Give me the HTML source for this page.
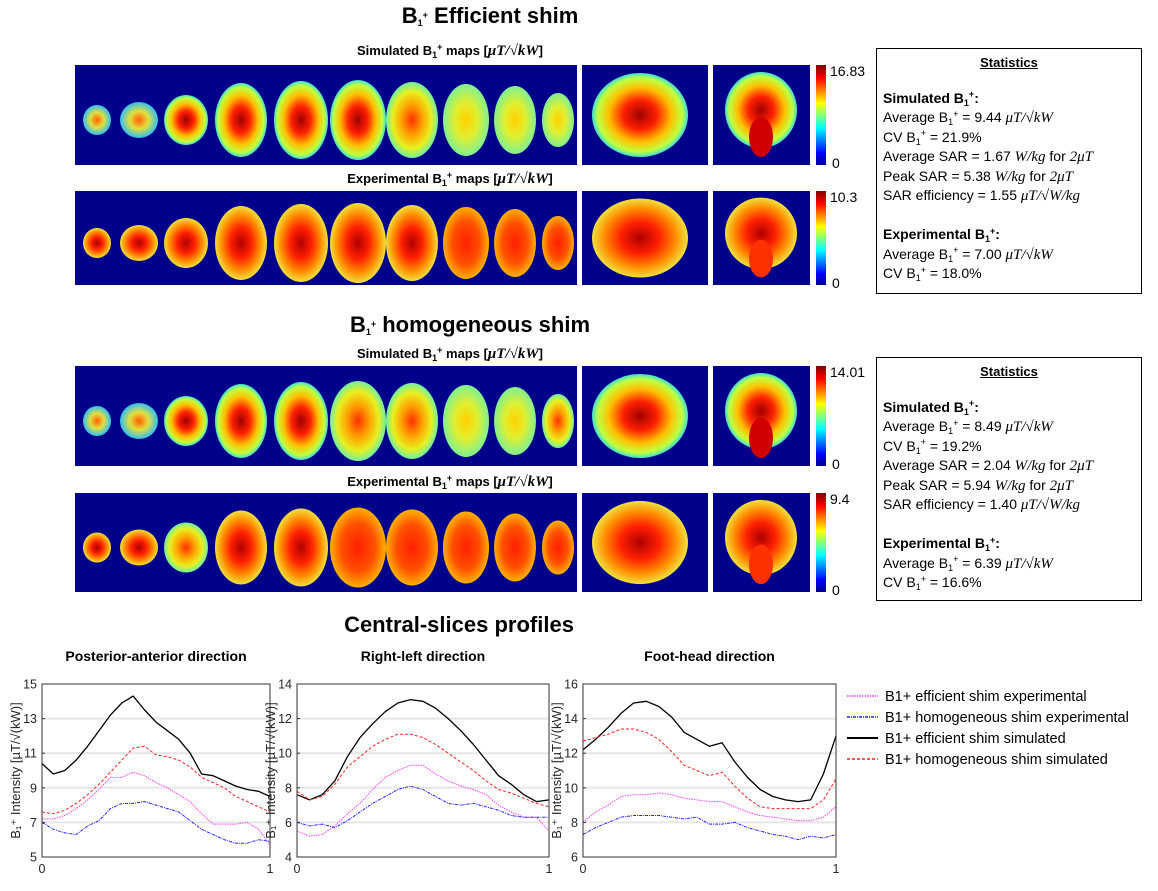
<!DOCTYPE html>
<html><head><meta charset="utf-8">
<style>
body{margin:0;background:#fff;font-family:"Liberation Sans",sans-serif;}
#root{position:relative;width:1158px;height:891px;overflow:hidden;}
.t{position:absolute;white-space:nowrap;color:#000;}
.h1{font-weight:bold;font-size:22px;transform:translateX(-50%);}
.h2{font-weight:bold;font-size:13px;transform:translateX(-50%);}
.stat{position:absolute;border:1px solid #000;background:#fff;font-size:14px;line-height:19.5px;padding:0 6px;box-sizing:border-box;}
.stat u{display:block;text-align:center;font-weight:bold;font-size:13px;margin-top:4px;margin-bottom:16px;}
.m{font-family:"Liberation Serif",serif;font-style:italic;font-size:15px;line-height:0;}
sup,sub{font-size:9px;position:relative;vertical-align:baseline;line-height:0;}
sup{top:-0.6em;} sub{top:0.35em;}
</style></head><body>
<div id="root">
<div class="t h1" style="left:490px;top:3px">B<sub>1</sub><sup>+</sup> Efficient shim</div>
<div class="t h2" style="left:450px;top:43px">Simulated B<sub>1</sub><sup>+</sup> maps [<span class="m">μT/√kW</span>]</div>
<div class="t h2" style="left:450px;top:171px">Experimental B<sub>1</sub><sup>+</sup> maps [<span class="m">μT/√kW</span>]</div>
<div class="t h1" style="left:470px;top:312px">B<sub>1</sub><sup>+</sup> homogeneous shim</div>
<div class="t h2" style="left:450px;top:346px">Simulated B<sub>1</sub><sup>+</sup> maps [<span class="m">μT/√kW</span>]</div>
<div class="t h2" style="left:450px;top:474px">Experimental B<sub>1</sub><sup>+</sup> maps [<span class="m">μT/√kW</span>]</div>
<div class="t h1" style="left:459px;top:612px">Central-slices profiles</div>

<div class="stat" style="left:876px;top:48px;width:266px;height:246px">
<u>Statistics</u>
<b>Simulated B<sub>1</sub><sup>+</sup>:</b><br>
Average B<sub>1</sub><sup>+</sup> = 9.44 <span class="m">μT/√kW</span><br>
CV B<sub>1</sub><sup>+</sup> = 21.9%<br>
Average SAR = 1.67 <span class="m">W/kg</span> for <span class="m">2μT</span><br>
Peak SAR = 5.38 <span class="m">W/kg</span> for <span class="m">2μT</span><br>
SAR efficiency = 1.55 <span class="m">μT/√W/kg</span><br><br>
<b>Experimental B<sub>1</sub><sup>+</sup>:</b><br>
Average B<sub>1</sub><sup>+</sup> = 7.00 <span class="m">μT/√kW</span><br>
CV B<sub>1</sub><sup>+</sup> = 18.0%
</div>
<div class="stat" style="left:876px;top:357px;width:266px;height:244px">
<u>Statistics</u>
<b>Simulated B<sub>1</sub><sup>+</sup>:</b><br>
Average B<sub>1</sub><sup>+</sup> = 8.49 <span class="m">μT/√kW</span><br>
CV B<sub>1</sub><sup>+</sup> = 19.2%<br>
Average SAR = 2.04 <span class="m">W/kg</span> for <span class="m">2μT</span><br>
Peak SAR = 5.94 <span class="m">W/kg</span> for <span class="m">2μT</span><br>
SAR efficiency = 1.40 <span class="m">μT/√W/kg</span><br><br>
<b>Experimental B<sub>1</sub><sup>+</sup>:</b><br>
Average B<sub>1</sub><sup>+</sup> = 6.39 <span class="m">μT/√kW</span><br>
CV B<sub>1</sub><sup>+</sup> = 16.6%
</div>

<svg id="maps" width="1158" height="891" style="position:absolute;left:0;top:0;pointer-events:none">
<defs>
<linearGradient id="jet" x1="0" y1="1" x2="0" y2="0">
<stop offset="0" stop-color="#00008f"/><stop offset=".12" stop-color="#0000ff"/><stop offset=".37" stop-color="#00ffff"/><stop offset=".62" stop-color="#ffff00"/><stop offset=".87" stop-color="#ff0000"/><stop offset="1" stop-color="#800000"/>
</linearGradient>
<radialGradient id="hot"><stop offset="0" stop-color="#a00000"/><stop offset=".35" stop-color="#ff2000"/><stop offset=".65" stop-color="#ffc000"/><stop offset=".88" stop-color="#c0ff40"/><stop offset="1" stop-color="#40e0d0"/></radialGradient>
<radialGradient id="mid"><stop offset="0" stop-color="#ff3000"/><stop offset=".4" stop-color="#ffa000"/><stop offset=".75" stop-color="#e8f020"/><stop offset="1" stop-color="#70f0a0"/></radialGradient>
<radialGradient id="cool"><stop offset="0" stop-color="#ffd000"/><stop offset=".5" stop-color="#e0f030"/><stop offset="1" stop-color="#80f090"/></radialGradient>
<radialGradient id="small"><stop offset="0" stop-color="#ff6000"/><stop offset=".5" stop-color="#e0e040"/><stop offset="1" stop-color="#30c0f0"/></radialGradient>
<radialGradient id="exp"><stop offset="0" stop-color="#b00000"/><stop offset=".4" stop-color="#ff2000"/><stop offset=".75" stop-color="#ff9000"/><stop offset="1" stop-color="#f0e040"/></radialGradient>
<radialGradient id="expr"><stop offset="0" stop-color="#ff2000"/><stop offset=".6" stop-color="#ff5000"/><stop offset="1" stop-color="#ffb000"/></radialGradient>
</defs>
</svg>

<svg id="charts" width="1158" height="891" style="position:absolute;left:0;top:0"></svg>
</div>
<script>
// ---- chart data ----
const xs = [0,0.05,0.1,0.15,0.2,0.25,0.3,0.35,0.4,0.45,0.5,0.55,0.6,0.65,0.7,0.75,0.8,0.85,0.9,0.95,1];
const paEffSim = [10.4,9.8,10.0,10.6,11.4,12.3,13.2,13.9,14.3,13.5,12.8,12.3,11.8,11.0,9.8,9.7,9.4,9.1,8.9,8.8,8.5];
const paHomSim = [7.6,7.5,7.7,8.1,8.6,9.2,9.9,10.6,11.3,11.4,10.9,10.8,10.6,10.2,9.6,9.3,9.0,8.5,8.2,7.9,7.6];
const paEffExp = [7.2,7.2,7.4,7.8,8.3,8.9,9.6,9.6,9.9,9.7,9.3,9.0,8.6,8.2,7.5,6.9,6.9,6.9,7.0,6.6,5.7];
const paHomExp = [7.0,6.6,6.4,6.3,6.8,7.1,7.8,8.1,8.1,8.2,8.0,7.8,7.6,7.1,6.6,6.3,6.0,5.8,5.8,6.0,5.9];
const rlEffSim = [7.6,7.3,7.6,8.4,9.8,10.9,11.7,12.4,12.9,13.1,13.0,12.6,12.0,11.3,10.5,9.6,8.7,8.2,7.6,7.2,7.3];
const rlHomSim = [7.8,7.3,7.5,8.2,9.2,9.8,10.4,10.8,11.1,11.1,10.9,10.5,10.0,9.5,9.0,8.4,7.9,7.7,7.4,7.1,6.9];
const rlEffExp = [5.5,5.2,5.3,5.8,6.5,7.1,7.9,8.6,9.0,9.3,9.3,8.8,8.4,8.1,7.9,7.6,7.0,6.6,6.3,6.3,5.5];
const rlHomExp = [6.0,5.8,5.9,5.7,6.1,6.6,7.1,7.5,7.9,8.1,7.9,7.5,7.1,7.0,7.1,6.9,6.7,6.4,6.3,6.3,6.3];
const fhEffSim = [12.2,12.8,13.5,14.3,14.9,15.0,14.7,14.1,13.2,12.8,12.4,12.6,11.5,10.6,9.9,9.5,9.3,9.2,9.3,10.8,13.0];
const fhHomSim = [12.7,12.9,13.1,13.4,13.4,13.2,12.8,12.1,11.3,11.0,10.7,10.9,10.1,9.4,8.9,8.8,8.8,8.8,8.8,9.3,10.5];
const fhEffExp = [8.0,8.6,9.0,9.5,9.6,9.6,9.7,9.6,9.4,9.3,9.2,9.2,8.9,8.6,8.4,8.3,8.2,8.1,8.1,8.3,8.9];
const fhHomExp = [7.3,7.7,8.0,8.3,8.4,8.4,8.4,8.3,8.2,8.3,7.9,7.9,8.0,7.7,7.5,7.3,7.2,7.0,7.2,7.1,7.3];
const paTicks = [5,7,9,11,13,15];
const rlTicks = [4,6,8,10,12,14];
const fhTicks = [6,8,10,12,14,16];
const chartTitles = ["Posterior-anterior direction","Right-left direction","Foot-head direction"];
const legendLabels = ["B1+ efficient shim experimental","B1+ homogeneous shim experimental","B1+ efficient shim simulated","B1+ homogeneous shim simulated"];

const NS="http://www.w3.org/2000/svg";
function mk(parent,tag,attrs,text){const e=document.createElementNS(NS,tag);for(const k in attrs)e.setAttribute(k,attrs[k]);if(text!==undefined)e.textContent=text;parent.appendChild(e);return e;}

// ---- maps ----
const maps=document.getElementById('maps');
const panels=[
 {y:65,h:100,g:['small','small','hot','hot','hot','hot','mid','cool','cool','cool'],cb:['16.83','0']},
 {y:191,h:94,g:['exp','exp','exp','exp','exp','exp','exp','expr','expr','expr'],cb:['10.3','0']},
 {y:366,h:100,g:['small','small','hot','hot','hot','mid','mid','cool','cool','mid'],cb:['14.01','0']},
 {y:493,h:99,g:['exp','exp','mid','exp','exp','expr','expr','expr','expr','expr'],cb:['9.4','0']}
];
const slices=[[97,28,30],[139,38,36],[186,44,50],[241,52,74],[301,54,78],[358,56,80],[412,52,76],[466,46,72],[515,42,68],[558,32,54]];
panels.forEach((p,pi)=>{
 const r=mk(maps,'rect',{x:75,y:p.y,width:502,height:p.h,fill:'#00008b'});
 
 
 const cy=p.y+p.h/2+5;
 slices.forEach((s,i)=>{
  const e=mk(maps,'ellipse',{cx:s[0],cy:cy,rx:s[1]/2,ry:s[2]/2,fill:'url(#'+p.g[i]+')'});
  
  
 });
 const sg=mk(maps,'rect',{x:582,y:p.y,width:126,height:p.h,fill:'#00008b'});
 
 
 mk(maps,'ellipse',{cx:640,cy:p.y+p.h/2,rx:48,ry:p.h*0.42,fill:'url(#'+(pi%2?'exp':'hot')+')'});
 const co=mk(maps,'rect',{x:713,y:p.y,width:97,height:p.h,fill:'#00008b'});
 
 
 mk(maps,'ellipse',{cx:761,cy:p.y+p.h*0.45,rx:36,ry:p.h*0.38,fill:'url(#'+(pi%2?'exp':'hot')+')'});
 mk(maps,'ellipse',{cx:761,cy:p.y+p.h*0.72,rx:12,ry:p.h*0.2,fill:pi%2?'#ff3000':'#d00000'});
 const cb=mk(maps,'rect',{x:816,y:p.y,width:10,height:p.h,fill:'url(#jet)'});
 
 
 mk(maps,'text',{x:830,y:p.y+11,'font-size':'14','font-family':'Liberation Sans'},p.cb[0]);
 mk(maps,'text',{x:832,y:p.y+p.h+3,'font-size':'14','font-family':'Liberation Sans'},p.cb[1]);
});

// ---- charts ----
const svg=document.getElementById('charts');
const charts=[
 {l:42,r:270,ticks:paTicks,s:[paEffExp,paHomExp,paEffSim,paHomSim]},
 {l:297,r:549,ticks:rlTicks,s:[rlEffExp,rlHomExp,rlEffSim,rlHomSim]},
 {l:583,r:836,ticks:fhTicks,s:[fhEffExp,fhHomExp,fhEffSim,fhHomSim]}
];
const pTop=684,pBot=857;
const styles=[{c:'#ff40ff',d:'1.5,1'},{c:'#2020ff',d:'3,1,1,1'},{c:'#000',d:''},{c:'#ff2020',d:'3,2'}];
charts.forEach((c,ci)=>{
 const y0=c.ticks[0],y1=c.ticks[c.ticks.length-1];
 const X=v=>c.l+v*(c.r-c.l);
 const Y=v=>pBot-(v-y0)/(y1-y0)*(pBot-pTop);
 const g=mk(svg,'g',{});
 
 
 const t=mk(g,'text',{x:(c.l+c.r)/2,y:661,'text-anchor':'middle','font-size':'14','font-weight':'bold','font-family':'Liberation Sans'},chartTitles[ci]);
 
 
 c.ticks.forEach((v,i)=>{
  if(i>0&&i<c.ticks.length-1) mk(g,'line',{x1:c.l,x2:c.r,y1:Y(v),y2:Y(v),stroke:'#e6e6e6','stroke-width':2});
  mk(g,'line',{x1:c.l,x2:c.l+3,y1:Y(v),y2:Y(v),stroke:'#333'});
  const tl=mk(g,'text',{x:c.l-5,y:Y(v)+4.5,'text-anchor':'end','font-size':'12.5','font-family':'Liberation Sans',fill:'#262626'},v);
  
  
 });
 [0,1].forEach(v=>{mk(g,'text',{x:X(v),y:pBot+16,'text-anchor':'middle','font-size':'12.5','font-family':'Liberation Sans',fill:'#262626'},v);});
 const yl=mk(g,'text',{transform:'translate('+(c.l-22)+','+((pTop+pBot)/2)+') rotate(-90)','text-anchor':'middle','font-size':'13','font-family':'Liberation Sans',fill:'#262626'},'B\u2081\u207A Intensity [\u00B5T/\u221A(kW)]');
 
 
 c.s.forEach((arr,si)=>{
  const pts=arr.map((v,i)=>X(xs[i]).toFixed(1)+','+Y(v).toFixed(1)).join(' ');
  const pl=mk(g,'polyline',{points:pts,fill:'none',stroke:styles[si].c,'stroke-width':si==2?1.3:1,'stroke-dasharray':styles[si].d,'stroke-linejoin':'round'});
  
  
 });
 mk(g,'rect',{x:c.l,y:pTop,width:c.r-c.l,height:pBot-pTop,fill:'none',stroke:'#333','stroke-width':1});
});
const lg=mk(svg,'g',{});


legendLabels.forEach((lab,i)=>{
 const y=696+i*21;
 mk(lg,'line',{x1:847,x2:878,y1:y,y2:y,stroke:styles[i].c,'stroke-width':i==2?2:1.5,'stroke-dasharray':styles[i].d});
 const tx=mk(lg,'text',{x:885,y:y+5,'font-size':'14.5','font-family':'Liberation Sans'},lab);
 
 
});
</script>
</body></html>
